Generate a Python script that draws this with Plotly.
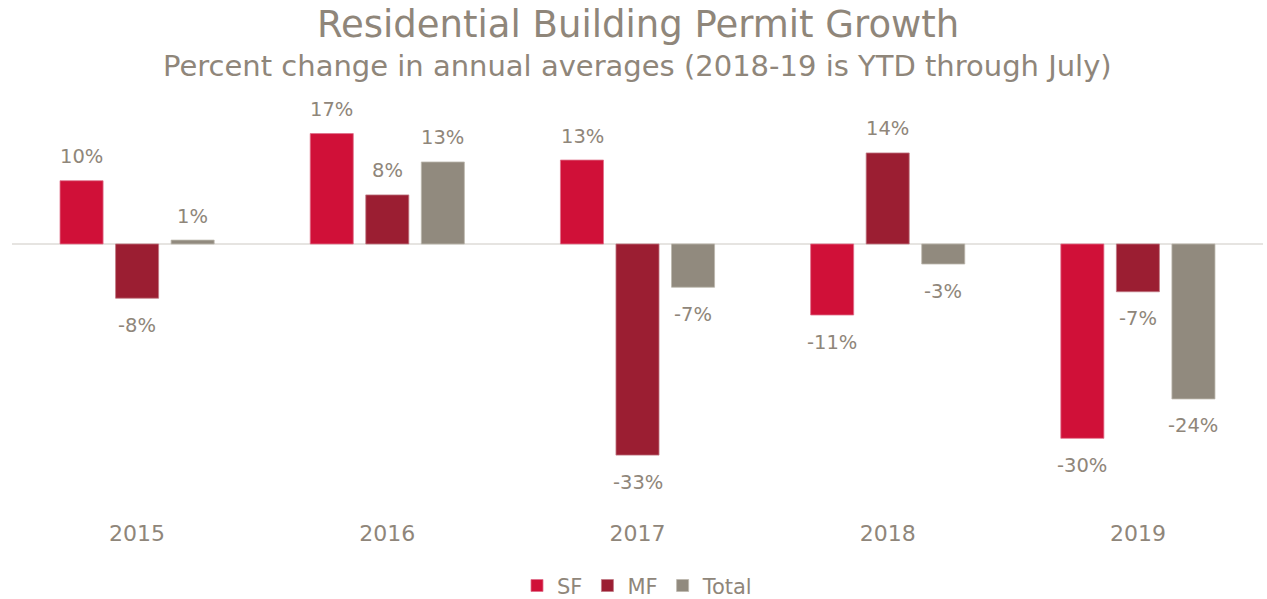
import plotly.graph_objects as go

years = ["2015", "2016", "2017", "2018", "2019"]
sf = [9.8, 17.1, 13.0, -11.0, -30.1]
mf = [-8.4, 7.6, -32.7, 14.1, -7.4]
total = [0.6, 12.7, -6.7, -3.1, -24.0]
sf_labels = ["10%", "17%", "13%", "-11%", "-30%"]
mf_labels = ["-8%", "8%", "-33%", "14%", "-7%"]
total_labels = ["1%", "13%", "-7%", "-3%", "-24%"]

colors = {"SF": "#d01038", "MF": "#9b1e32", "Total": "#918a7e"}
edge = {"SF": "#e0708a", "MF": "#c07884", "Total": "#bdb7ad"}
text_color = "#8f867a"
FONT = "DejaVu Sans"

fig = go.Figure()
series = [("SF", sf, sf_labels), ("MF", mf, mf_labels), ("Total", total, total_labels)]
for name, vals, _ in series:
    fig.add_trace(go.Bar(
        x=years, y=vals, name=name,
        marker=dict(color=colors[name], line=dict(color=edge[name], width=0.8)),
    ))

shifts = {"SF": -55.5, "MF": 0, "Total": 55.5}
for name, vals, labels in series:
    for i, (v, lab) in enumerate(zip(vals, labels)):
        fig.add_annotation(
            x=i, y=v, text=lab, showarrow=False, yanchor="middle",
            xshift=shifts[name], yshift=24 if v >= 0 else -27,
            font=dict(family=FONT, size=19.5, color=text_color),
        )

fig.add_annotation(xref="paper", yref="paper", x=0.5, y=1.0, yshift=76, yanchor="middle",
                   text="Residential Building Permit Growth", showarrow=False,
                   font=dict(family=FONT, size=37, color=text_color))
fig.add_annotation(xref="paper", yref="paper", x=0.5, y=1.0, yshift=34, yanchor="middle",
                   text="Percent change in annual averages (2018-19 is YTD through July)",
                   showarrow=False, font=dict(family=FONT, size=29, color=text_color))

fig.update_layout(
    width=1267, height=599,
    paper_bgcolor="white", plot_bgcolor="white",
    margin=dict(l=12, r=4, t=100, b=89, autoexpand=False),
    barmode="group", bargap=0.334, bargroupgap=0.225,
    font=dict(family=FONT, color=text_color),
    showlegend=True,
    legend=dict(orientation="h", x=0.5, xanchor="center", y=-0.135, yanchor="top",
                font=dict(family=FONT, size=21, color=text_color),
                itemwidth=30, tracegroupgap=0),
    xaxis=dict(type="category", showgrid=False, showline=False, ticks="outside", ticklen=4,
               tickcolor="rgba(0,0,0,0)", tickfont=dict(family=FONT, size=22, color=text_color)),
    yaxis=dict(range=[-41.2, 22.3], showgrid=False, showticklabels=False,
               zeroline=True, zerolinecolor="#e6e4e1", zerolinewidth=2),
)

fig.write_html("out.html", config={"displayModeBar": False},
               post_script="document.body.style.margin='0';")
